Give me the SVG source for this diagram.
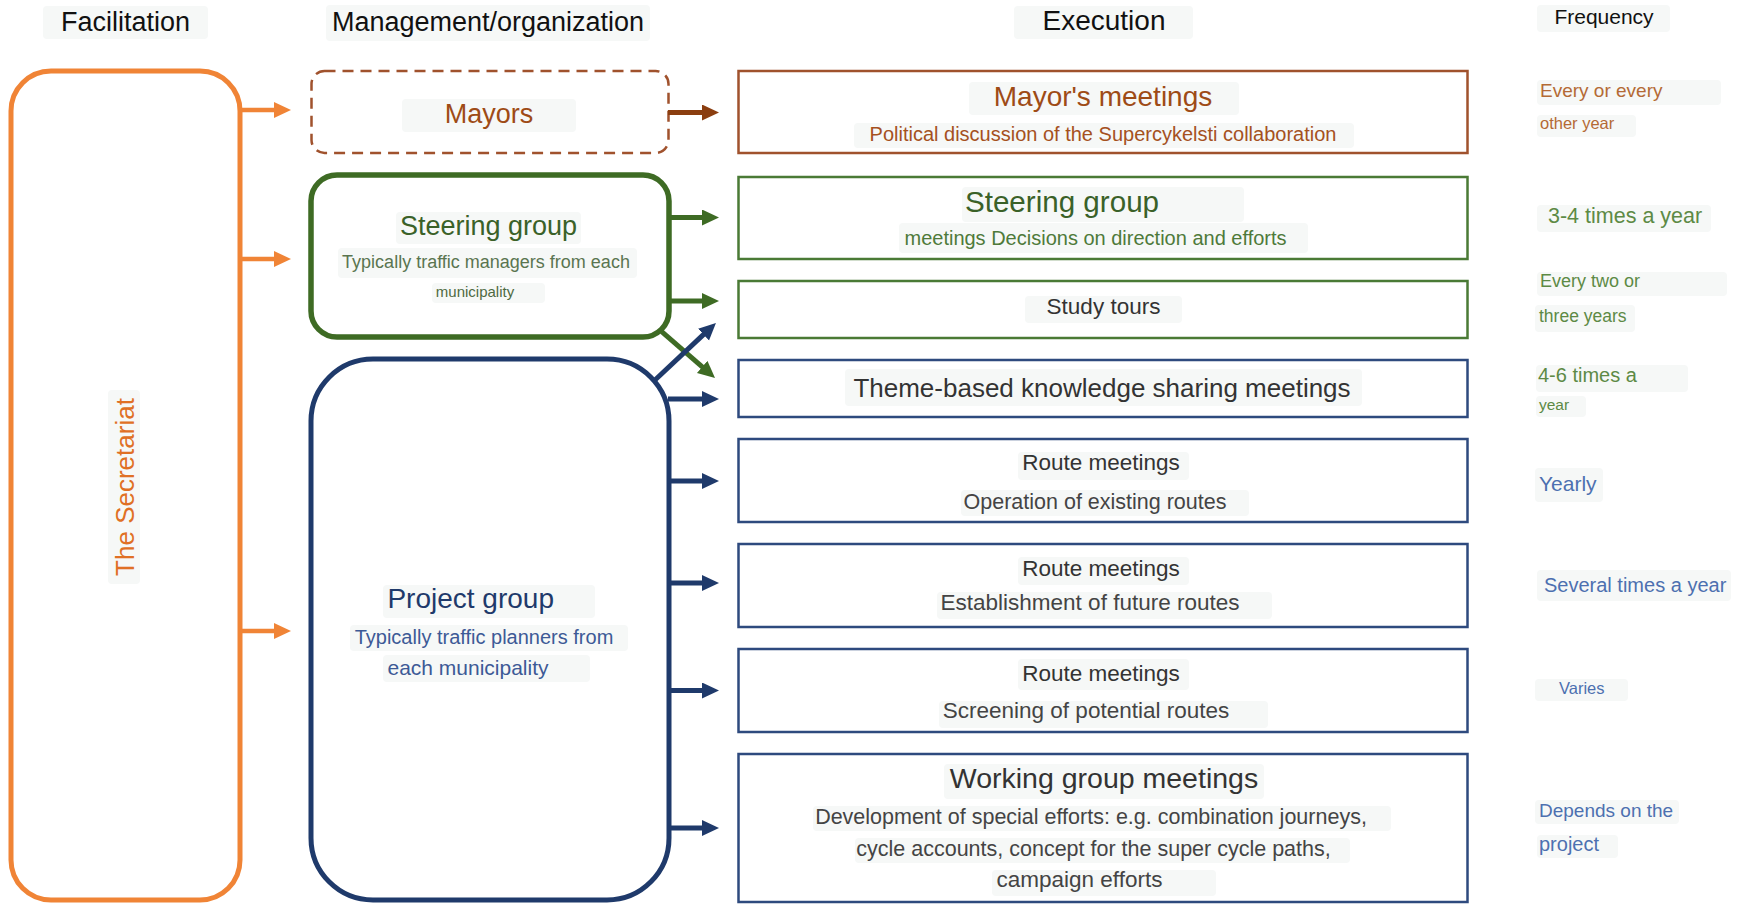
<svg xmlns="http://www.w3.org/2000/svg" width="1740" height="904" viewBox="0 0 1740 904">
<defs>
<style>
text{font-family:"Liberation Sans",Arial,sans-serif}
.bg{fill:#f6f8f7}
.c{text-anchor:middle}
.hd{fill:#111;font-size:27px}
.brown{fill:#9E4B16}
.fbrown{fill:#B46A35}
.green{fill:#3A6128}
.lgreen{fill:#5D8A45}
.gray{fill:#333}
.gray2{fill:#444}
.navy{fill:#1F3A6B}
.blue{fill:#4D70B0}
.exb{fill:none;stroke:#A0522D;stroke-width:2.5}
.exg{fill:none;stroke:#4A7A35;stroke-width:2.5}
.exn{fill:none;stroke:#2E4A7E;stroke-width:2.5}
.ao{stroke:#F08436;stroke-width:4.5;fill:none}
.ab{stroke:#8B3E10;stroke-width:5;fill:none}
.ag{stroke:#3E6B24;stroke-width:5;fill:none}
.an{stroke:#1F3A6B;stroke-width:5;fill:none}
</style>
<marker id="mo" markerUnits="userSpaceOnUse" markerWidth="18" markerHeight="18" refX="2" refY="8" orient="auto"><path d="M0,0 L17,8 L0,16 z" fill="#F08436"/></marker>
<marker id="mb" markerUnits="userSpaceOnUse" markerWidth="18" markerHeight="18" refX="2" refY="8" orient="auto"><path d="M0,0 L17,8 L0,16 z" fill="#8B3E10"/></marker>
<marker id="mg" markerUnits="userSpaceOnUse" markerWidth="18" markerHeight="18" refX="2" refY="8" orient="auto"><path d="M0,0 L17,8 L0,16 z" fill="#3E6B24"/></marker>
<marker id="mn" markerUnits="userSpaceOnUse" markerWidth="18" markerHeight="18" refX="2" refY="8" orient="auto"><path d="M0,0 L17,8 L0,16 z" fill="#1F3A6B"/></marker>
</defs>
<rect width="1740" height="904" fill="#fff"/>

<g id="headers">
<rect class="bg" x="43" y="6" width="165" height="33" rx="4"/>
<rect class="bg" x="326" y="5" width="324" height="36" rx="4"/>
<rect class="bg" x="1014" y="6" width="179" height="33" rx="4"/>
<rect class="bg" x="1537" y="5" width="133" height="27" rx="4"/>
<text class="hd c" x="125.5" y="31">Facilitation</text>
<text class="hd c" x="488" y="31">Management/organization</text>
<text class="hd c" x="1104" y="30" style="font-size:28px">Execution</text>
<text class="c" x="1604" y="24" fill="#111" font-size="21">Frequency</text>
</g>

<g id="secretariat">
<rect x="11" y="71" width="229" height="829" rx="40" fill="none" stroke="#F08436" stroke-width="5"/>
<rect class="bg" x="108" y="390" width="32" height="194" rx="4"/>
<text class="c" transform="translate(134,487) rotate(-90)" fill="#E07025" font-size="26">The Secretariat</text>
</g>

<g id="mayors">
<rect x="311.5" y="71" width="357" height="82" rx="13" fill="none" stroke="#A0522D" stroke-width="2.5" stroke-dasharray="11 7"/>
<rect class="bg" x="402" y="99" width="174" height="33" rx="4"/>
<text class="brown c" x="489" y="123" font-size="27">Mayors</text>
</g>

<g id="steering">
<rect x="311" y="175" width="358" height="162" rx="26" fill="none" stroke="#3E6B24" stroke-width="5.5"/>
<rect class="bg" x="396" y="212" width="185" height="32" rx="4"/>
<rect class="bg" x="338" y="248" width="299" height="30" rx="4"/>
<rect class="bg" x="432" y="283" width="113" height="20" rx="4"/>
<text class="green c" x="488.5" y="235" font-size="27">Steering group</text>
<text class="c" x="486" y="268" fill="#5A7550" font-size="18">Typically traffic managers from each</text>
<text class="c" x="475" y="297" fill="#4E6A42" font-size="15">municipality</text>
</g>

<g id="project">
<rect x="311" y="359" width="358" height="541" rx="62" fill="none" stroke="#1F3A6B" stroke-width="5"/>
<rect class="bg" x="383" y="585" width="212" height="33" rx="4"/>
<rect class="bg" x="350" y="625" width="278" height="26" rx="4"/>
<rect class="bg" x="383" y="655" width="207" height="27" rx="4"/>
<text class="navy c" x="470.7" y="608" font-size="28">Project group</text>
<text class="c" x="484" y="644" fill="#3D5A96" font-size="20">Typically traffic planners from</text>
<text class="c" x="468" y="674.5" fill="#3D5A96" font-size="21">each municipality</text>
</g>

<g id="connectors">
<line class="ao" x1="240" y1="110" x2="276" y2="110" marker-end="url(#mo)"/>
<line class="ao" x1="240" y1="259" x2="276" y2="259" marker-end="url(#mo)"/>
<line class="ao" x1="240" y1="631" x2="276" y2="631" marker-end="url(#mo)"/>
<line class="ab" x1="668" y1="112.5" x2="704" y2="112.5" marker-end="url(#mb)"/>
<line class="ag" x1="669" y1="217.5" x2="704" y2="217.5" marker-end="url(#mg)"/>
<line class="ag" x1="669" y1="301" x2="704" y2="301" marker-end="url(#mg)"/>
<line class="ag" x1="661.7" y1="331.7" x2="703.7" y2="368.2" marker-end="url(#mg)"/>
<line class="an" x1="655" y1="380" x2="705" y2="333.2" marker-end="url(#mn)"/>
<line class="an" x1="668" y1="399" x2="704" y2="399" marker-end="url(#mn)"/>
<line class="an" x1="668" y1="481" x2="704" y2="481" marker-end="url(#mn)"/>
<line class="an" x1="668" y1="583" x2="704" y2="583" marker-end="url(#mn)"/>
<line class="an" x1="668" y1="690.5" x2="704" y2="690.5" marker-end="url(#mn)"/>
<line class="an" x1="668" y1="828" x2="704" y2="828" marker-end="url(#mn)"/>
</g>

<g id="ex-mayors">
<rect class="exb" x="738.5" y="71" width="729" height="82"/>
<rect class="bg" x="969" y="82" width="270" height="33" rx="4"/>
<rect class="bg" x="854" y="123" width="500" height="25" rx="4"/>
<text class="brown c" x="1103" y="106" font-size="28">Mayor's meetings</text>
<text class="c" x="1103" y="141" fill="#A5511E" font-size="20">Political discussion of the Supercykelsti collaboration</text>
</g>

<g id="ex-steering">
<rect class="exg" x="738.5" y="177" width="729" height="82"/>
<rect class="bg" x="962" y="187" width="282" height="35" rx="4"/>
<rect class="bg" x="899" y="223" width="409" height="30" rx="4"/>
<text class="green c" x="1062" y="212" font-size="29.6">Steering group</text>
<text class="c" x="1095.5" y="245" fill="#4E7A3A" font-size="20">meetings Decisions on direction and efforts</text>
</g>

<g id="ex-study">
<rect class="exg" x="738.5" y="281" width="729" height="57"/>
<rect class="bg" x="1025" y="296" width="157" height="27" rx="4"/>
<text class="gray c" x="1103.5" y="314" font-size="22.5">Study tours</text>
</g>

<g id="ex-theme">
<rect class="exn" x="738.5" y="360" width="729" height="57"/>
<rect class="bg" x="845" y="369" width="517" height="37" rx="4"/>
<text class="gray c" x="1102" y="397" font-size="26">Theme-based knowledge sharing meetings</text>
</g>

<g id="ex-route1">
<rect class="exn" x="738.5" y="439" width="729" height="83"/>
<rect class="bg" x="1018" y="452" width="171" height="28" rx="4"/>
<rect class="bg" x="961" y="490" width="288" height="26" rx="4"/>
<text class="gray c" x="1101" y="470" font-size="22.5">Route meetings</text>
<text class="gray2 c" x="1095" y="509" font-size="21.5">Operation of existing routes</text>
</g>

<g id="ex-route2">
<rect class="exn" x="738.5" y="544" width="729" height="83"/>
<rect class="bg" x="1018" y="557" width="171" height="28" rx="4"/>
<rect class="bg" x="937" y="592" width="335" height="27" rx="4"/>
<text class="gray c" x="1101" y="576" font-size="22.5">Route meetings</text>
<text class="gray2 c" x="1090" y="610" font-size="22.5">Establishment of future routes</text>
</g>

<g id="ex-route3">
<rect class="exn" x="738.5" y="649" width="729" height="83"/>
<rect class="bg" x="1018" y="659" width="171" height="31" rx="4"/>
<rect class="bg" x="939" y="701" width="329" height="27" rx="4"/>
<text class="gray c" x="1101" y="681" font-size="22.5">Route meetings</text>
<text class="gray2 c" x="1086" y="718" font-size="22.5">Screening of potential routes</text>
</g>

<g id="ex-working">
<rect class="exn" x="738.5" y="754" width="729" height="148"/>
<rect class="bg" x="944" y="764" width="320" height="35" rx="4"/>
<rect class="bg" x="813" y="806" width="578" height="25" rx="4"/>
<rect class="bg" x="855" y="838" width="495" height="25" rx="4"/>
<rect class="bg" x="992" y="870" width="224" height="26" rx="4"/>
<text class="gray c" x="1104" y="788" font-size="28.5">Working group meetings</text>
<text class="gray2 c" x="1091" y="824" font-size="21.5">Development of special efforts: e.g. combination journeys,</text>
<text class="gray2 c" x="1093.5" y="856" font-size="21.5">cycle accounts, concept for the super cycle paths,</text>
<text class="gray2 c" x="1079.5" y="887" font-size="22.5">campaign efforts</text>
</g>

<g id="frequency">
<rect class="bg" x="1537" y="80" width="184" height="25" rx="4"/>
<rect class="bg" x="1537" y="115" width="99" height="22" rx="4"/>
<rect class="bg" x="1537" y="205" width="174" height="27" rx="4"/>
<rect class="bg" x="1537" y="272" width="190" height="24" rx="4"/>
<rect class="bg" x="1535" y="305" width="100" height="27" rx="4"/>
<rect class="bg" x="1536" y="365" width="152" height="27" rx="4"/>
<rect class="bg" x="1536" y="396" width="50" height="21" rx="4"/>
<rect class="bg" x="1535" y="468" width="68" height="34" rx="4"/>
<rect class="bg" x="1537" y="570" width="194" height="31" rx="4"/>
<rect class="bg" x="1535" y="679" width="93" height="22" rx="4"/>
<rect class="bg" x="1535" y="800" width="144" height="24" rx="4"/>
<rect class="bg" x="1537" y="835" width="81" height="23" rx="4"/>
<text class="fbrown" x="1540" y="97" font-size="19">Every or every</text>
<text class="fbrown" x="1540" y="129" font-size="16.5">other year</text>
<text class="lgreen" x="1548" y="223" font-size="21.5">3-4 times a year</text>
<text class="lgreen" x="1540" y="287" font-size="18">Every two or</text>
<text class="lgreen" x="1539" y="322" font-size="17.5">three years</text>
<text class="lgreen" x="1538" y="382" font-size="20">4-6 times a</text>
<text class="lgreen" x="1539" y="410" font-size="15.5">year</text>
<text class="blue" x="1539" y="491" font-size="21">Yearly</text>
<text class="blue" x="1544" y="592" font-size="20">Several times a year</text>
<text class="blue" x="1559" y="694" font-size="16.5">Varies</text>
<text class="blue" x="1539" y="817" font-size="19">Depends on the</text>
<text class="blue" x="1539" y="851" font-size="20">project</text>
</g>
</svg>
